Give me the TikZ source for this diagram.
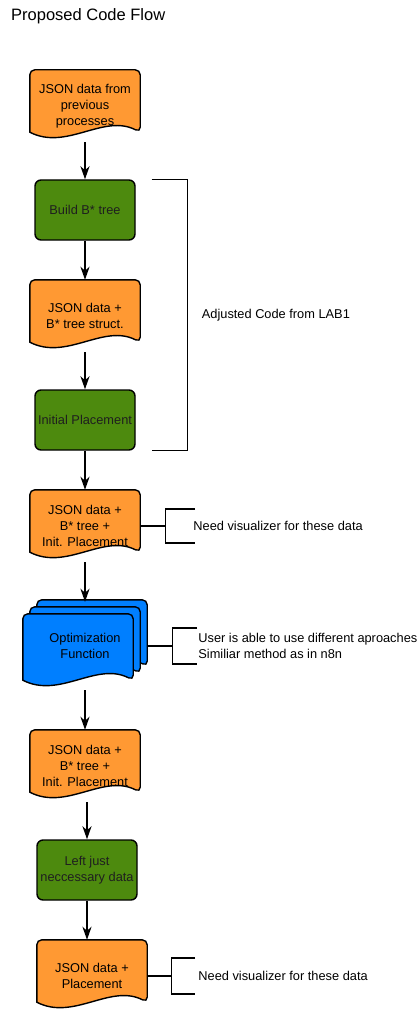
\documentclass[tikz,border=0pt]{standalone}
\usepackage{fontspec}
\setmainfont{Liberation Sans}
\usetikzlibrary{positioning,calc,backgrounds,arrows.meta}

\definecolor{docorange}{HTML}{FF9933}
\definecolor{stepgreen}{HTML}{4D8A0E}
\definecolor{optblue}{HTML}{007FFF}

% wavy document outline round a node: #2 node, #3 left inset, #4 right inset, #5 top inset, #6 lift of the wave
\newcommand\docshape[6][]{%
  \draw[docline,#1] let \p1=([xshift=#3,yshift={-1*(#5)}]#2.north west),
                        \p2=([xshift={-1*(#4)},yshift=#6]#2.south east),
                        \n1={(\x2-\x1)/3} in
    (\x1,\y2) [rounded corners=5pt] -- (\x1,\y1) -- (\x2,\y1) -- (\x2,\y2) [sharp corners]
    .. controls +(-\n1,19pt) and +(\n1,-19pt) .. (\x1,\y2) -- cycle;}

\begin{document}
\begin{tikzpicture}
  [x=1pt, y=-1pt,
   font=\fontsize{12.8}{16}\selectfont,
   data/.style={minimum width=110pt, minimum height=72pt, inner sep=0pt, align=center},
   process/.style={rectangle, draw=black, line width=1.4pt, fill=stepgreen, rounded corners=6pt,
     minimum width=100pt, minimum height=60pt, inner sep=0pt, align=center, text=black!88},
   docline/.style={draw=black, line width=1.4pt, fill=docorange},
   flow/.style={draw, line width=2pt, -{Stealth[length=13pt,width=9pt,inset=4pt]}},
   tie/.style={draw, line width=1.4pt},
   note/.style={anchor=west, inner sep=0pt, align=left},
  ]
  \useasboundingbox (0,0) rectangle (419,1011);

  \node[anchor=west, inner sep=0pt, font=\fontsize{16.5}{20}\selectfont] (title) at (11,16) {Proposed Code Flow};

  % main column
  \node[data] (d1) at (85,106) {JSON data from\\previous\\processes};
  \node[process] (build) at (85,210) {Build B* tree};
  \node[data] (d2) at (85,316) {JSON data +\\B* tree struct.};
  \node[process] (init) at (85,420) {Initial Placement};
  \node[data] (d3) at (85,526) {JSON data +\\B* tree +\\Init. Placement};
  \node[minimum width=124pt, minimum height=88pt, inner sep=0pt, align=center] (opt) at (85,646) {Optimization\\Function};
  \node[data] (d4) at (85,766) {JSON data +\\B* tree +\\Init. Placement};
  \node[process] (trim) at (87,870) {Left just\\neccessary data};
  \node[data] (d5) at (92,976) {JSON data +\\Placement};

  \begin{pgfonlayer}{background}
    \foreach \d in {d1,d2,d3,d4,d5}
      \docshape{\d}{0pt}{0pt}{0pt}{10pt};
    \docshape[fill=optblue]{opt}{14pt}{0pt}{-2pt}{24pt};
    \docshape[fill=optblue]{opt}{7pt}{7pt}{5pt}{17pt};
    \docshape[fill=optblue]{opt}{0pt}{14pt}{12pt}{10pt};
  \end{pgfonlayer}

  \path[flow] (d1.south) -- (build.north);
  \path[flow] (build.south) -- (d2.north);
  \path[flow] (d2.south) -- (init.north);
  \path[flow] (init.south) -- (d3.north);
  \path[flow] (d3.south) -- (opt.north);
  \path[flow] (opt.south) -- (d4.north);
  \path[flow] (trim.north |- d4.south) -- (trim.north);
  \path[flow] (trim.south) -- (trim.south |- d5.north);

  % bracket over the LAB1 part
  \coordinate (adjtop) at ($(build.north east)+(16,0)$);
  \coordinate (adjbot) at ($(init.south east)+(16,0)$);
  \draw[tie] (adjtop) -- ++(36,0) |- (adjbot);
  \node[note] (adjnote) at ($(adjtop)!0.5!(adjbot)+(50,0)$) {Adjusted Code from LAB1};

  % notes
  \draw[tie] (d3.east) -- ++(25,0) coordinate (v3);
  \draw[tie] ($(v3)+(30,-17)$) -- ($(v3)+(0,-17)$) -- ($(v3)+(0,17)$) -- ($(v3)+(30,17)$);
  \node[note] (n3) at ($(v3)+(28,0)$) {Need visualizer for these data};

  \draw[tie] (opt.east) -- ++(25,0) coordinate (vopt);
  \draw[tie] ($(vopt)+(25,-18)$) -- ($(vopt)+(0,-18)$) -- ($(vopt)+(0,18)$) -- ($(vopt)+(25,18)$);
  \node[note] (nopt) at ($(vopt)+(26,0)$) {User is able to use different aproaches\\Similiar method as in n8n};

  \draw[tie] (d5.east) -- ++(24,0) coordinate (v5);
  \draw[tie] ($(v5)+(24,-18)$) -- ($(v5)+(0,-18)$) -- ($(v5)+(0,18)$) -- ($(v5)+(24,18)$);
  \node[note] (n5) at ($(v5)+(27,0)$) {Need visualizer for these data};
\end{tikzpicture}
\end{document}
